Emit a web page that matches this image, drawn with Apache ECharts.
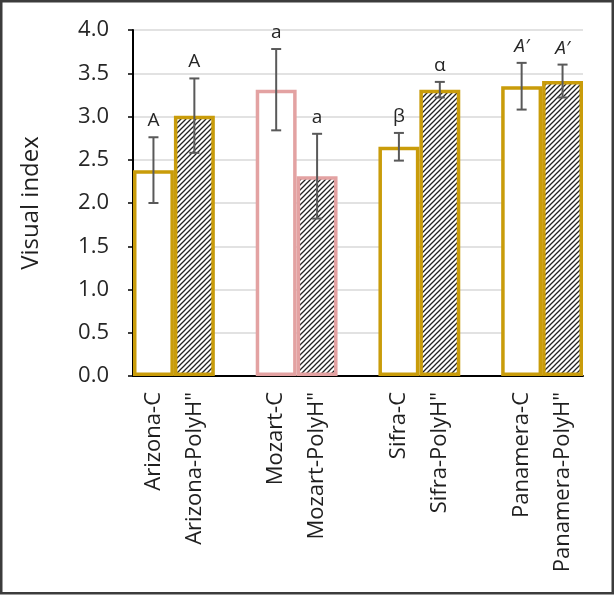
<!DOCTYPE html>
<html>
<head>
<meta charset="utf-8">
<script src="https://cdn.jsdelivr.net/npm/echarts@6/dist/echarts.min.js"></script>
<style>
  html, body { margin: 0; padding: 0; background: #fff; }
  #chart { width: 614px; height: 595px; }
</style>
</head>
<body>
<div id="chart"></div>
<script>
// ---- data ----
const categories = ['Arizona-C', 'Arizona-PolyH"', 'Mozart-C', 'Mozart-PolyH"', 'Sifra-C', 'Sifra-PolyH"', 'Panamera-C', 'Panamera-PolyH"'];
const means = [2.38, 3.01, 3.31, 2.31, 2.65, 3.31, 3.35, 3.41];
const errors = [0.38, 0.43, 0.47, 0.49, 0.16, 0.09, 0.27, 0.19];
const letters = ['A', 'A', 'a', 'a', 'β', 'α', 'A′', 'A′'];
const italicLetters = [false, false, false, false, false, false, true, true];
const yMin = 0, yMax = 4, yStep = 0.5;

// ---- styles ----
const GOLD = '#C99C0A';
const PINK = '#E3A2A2';
function borderFor(name) { return name.indexOf('Mozart') === 0 ? PINK : GOLD; }

// hatch pattern
const pat = document.createElement('canvas');
pat.width = 5; pat.height = 5;
(function () {
  const c = pat.getContext('2d');
  c.fillStyle = '#ffffff'; c.fillRect(0, 0, 5, 5);
  c.strokeStyle = '#222222'; c.lineWidth = 1.3;
  c.beginPath();
  c.moveTo(-1, 6); c.lineTo(6, -1);
  c.moveTo(-3, 3); c.lineTo(3, -3);
  c.moveTo(2, 8); c.lineTo(8, 2);
  c.stroke();
})();

// ---- build axis with spacer slots between varieties ----
const axisCats = [];
const barData = [];
const errData = [];
categories.forEach((name, i) => {
  const idx = axisCats.length;
  axisCats.push(name);
  const poly = name.indexOf('PolyH') >= 0;
  barData.push({
    value: means[i],
    itemStyle: {
      color: poly ? { image: pat, repeat: 'repeat' } : '#ffffff',
      borderColor: borderFor(name),
      borderWidth: 3.5
    }
  });
  errData.push([idx, means[i] - errors[i], means[i] + errors[i], letters[i], italicLetters[i] ? 1 : 0]);
  if (i % 2 === 1 && i < categories.length - 1) {
    axisCats.push('__gap' + i);
    barData.push('-');
  }
});

const chart = echarts.init(document.getElementById('chart'), null, { renderer: 'canvas' });
const FONT = '"Open Sans", "Noto Sans", sans-serif';
chart.setOption({
  animation: false,
  backgroundColor: '#ffffff',
  textStyle: { fontFamily: FONT },
  graphic: [{
    type: 'rect',
    shape: { x: 1.25, y: 1.25, width: 611.5, height: 592 },
    style: { fill: 'none', stroke: '#3c3c3c', lineWidth: 2.5 },
    z: 100
  }],
  grid: { left: 133, right: 31, top: 30, bottom: 219, containLabel: false },
  xAxis: {
    type: 'category',
    data: axisCats,
    boundaryGap: true,
    axisLine: { show: true, lineStyle: { color: '#000', width: 2 } },
    axisTick: { show: false },
    splitLine: { show: false },
    axisLabel: {
      interval: 0,
      rotate: 90,
      margin: 16,
      fontSize: 22,
      fontFamily: FONT,
      color: '#1f1f1f',
      formatter: v => v.indexOf('__gap') === 0 ? '' : v
    }
  },
  yAxis: {
    type: 'value',
    min: yMin, max: yMax, interval: yStep,
    name: 'Visual index',
    nameLocation: 'middle',
    nameGap: 90,
    nameTextStyle: { fontSize: 24, fontFamily: FONT, color: '#1f1f1f' },
    axisLine: { show: true, lineStyle: { color: '#000', width: 2 } },
    axisTick: { show: true, length: 5, lineStyle: { color: '#000', width: 1.5 } },
    splitLine: { show: true, lineStyle: { color: '#d9d9d9', width: 1.5 } },
    axisLabel: {
      margin: 24,
      fontSize: 22,
      fontFamily: FONT,
      color: '#262626',
      formatter: v => v.toFixed(1)
    }
  },
  series: [
    {
      type: 'bar',
      data: barData,
      barWidth: '100%',
      barGap: '0%',
      z: 2
    },
    {
      type: 'custom',
      data: errData,
      z: 5,
      renderItem: function (params, api) {
        const x = api.value(0);
        const lo = api.coord([x, api.value(1)]);
        const hi = api.coord([x, api.value(2)]);
        const cw = 5;
        const st = { stroke: '#595959', lineWidth: 2 };
        const italic = api.value(4) === 1;
        return {
          type: 'group',
          children: [
            { type: 'line', shape: { x1: hi[0], y1: hi[1], x2: lo[0], y2: lo[1] }, style: st },
            { type: 'line', shape: { x1: hi[0] - cw, y1: hi[1], x2: hi[0] + cw, y2: hi[1] }, style: st },
            { type: 'line', shape: { x1: lo[0] - cw, y1: lo[1], x2: lo[0] + cw, y2: lo[1] }, style: st },
            {
              type: 'text',
              x: hi[0], y: hi[1] - 7,
              style: {
                text: errData[params.dataIndex][3],
                fontSize: 19,
                fontFamily: FONT,
                fontStyle: italic ? 'italic' : 'normal',
                fill: '#262626',
                align: 'center',
                verticalAlign: 'bottom'
              }
            }
          ]
        };
      }
    }
  ]
});
</script>
</body>
</html>
